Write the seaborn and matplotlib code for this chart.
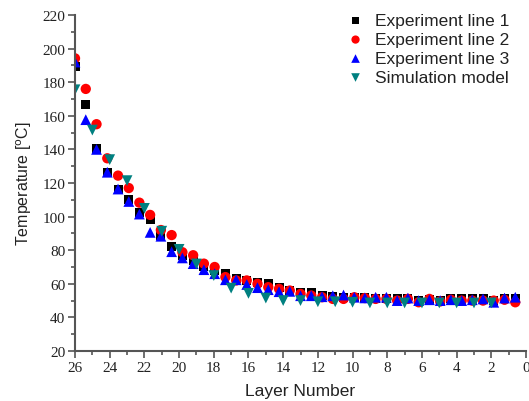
import numpy as np
import pandas as pd
import matplotlib
matplotlib.use("Agg")
import matplotlib.pyplot as plt
import seaborn as sns
from matplotlib.ticker import MultipleLocator

exp_layer = [26.0, 25.38, 24.76, 24.14, 23.52, 22.90, 22.29, 21.67, 21.05, 20.43,
             19.81, 19.19, 18.57, 17.95, 17.33, 16.71, 16.10, 15.48, 14.86, 14.24,
             13.62, 13.00, 12.38, 11.76, 11.14, 10.52, 9.90, 9.29, 8.67, 8.05,
             7.43, 6.81, 6.19, 5.57, 4.95, 4.33, 3.71, 3.10, 2.48, 1.86, 1.24, 0.62]

line1 = [189.5, 167, 140.6, 126, 116, 110, 102.5, 98, 88.5, 82,
         77, 74, 70, 68, 66.3, 63, 62, 61, 60, 57.5,
         56, 55, 55, 53, 52.5, 52, 52, 52, 51.5, 51.5,
         51, 51.5, 50, 50.5, 50, 51, 51, 51, 51, 50, 51.5, 51.5]

line2 = [194.2, 176, 155, 134.7, 124.4, 117, 108.3, 101, 92, 89,
         78.8, 77, 72, 70, 64, 62, 62, 60, 58, 57,
         56, 54, 53, 52, 51, 51, 52, 51.5, 51, 51,
         50, 51, 49, 51, 49.5, 50.5, 50, 50, 50, 50, 50.5, 49]

line3 = [192, 157.7, 140, 126.4, 116.4, 109, 101.5, 90.6, 88.3, 79.1,
         75.4, 72, 68.4, 66, 62.4, 62.4, 59.6, 57.7, 56.5, 55.3,
         55.5, 52.9, 52.9, 52.3, 52.9, 53.3, 52, 51.6, 52, 52,
         50, 51.5, 50, 50.5, 50, 50.5, 50, 50.5, 51, 49, 51.5, 52]

# simulation model at whole layers
sim_layer = [26, 25, 24, 23, 22, 21, 20, 19, 18, 17, 16, 15, 14, 13, 12, 11, 10,
             9, 8, 7, 6, 5, 4, 3, 2]
sim_temp = [175.5, 151.5, 133.9, 121.4, 104.9, 91.3, 80.5, 71.8, 64.9, 57.4,
            54.3, 51.5, 50, 50, 49.3, 49.3, 49, 48.6, 48.6, 48.6, 48.6, 48.6,
            48.6, 48.6, 48.6]

exp_df = pd.DataFrame({"layer": exp_layer, "line1": line1,
                       "line2": line2, "line3": line3})
sim_df = pd.DataFrame({"layer": sim_layer, "temp": sim_temp})

sns.set_style("ticks")
plt.rcParams['font.family'] = ['Liberation Sans', 'DejaVu Sans']

fig = plt.figure(figsize=(5.29, 4.02), dpi=100)
ax = fig.add_axes([0.1418, 0.1244, 0.8526, 0.8358])

sns.scatterplot(data=exp_df, x="layer", y="line1", marker="s", color="black",
                s=42, edgecolor="none", label="Experiment line 1", ax=ax)
sns.scatterplot(data=exp_df, x="layer", y="line2", marker="o", color="red",
                s=55, edgecolor="none", label="Experiment line 2", ax=ax)
sns.scatterplot(data=exp_df, x="layer", y="line3", marker="^", color="blue",
                s=60, edgecolor="none", label="Experiment line 3", ax=ax)
sns.scatterplot(data=sim_df, x="layer", y="temp", marker="v", color="#008080",
                s=60, edgecolor="none", label="Simulation model", ax=ax)

ax.set_xlim(26, 0)
ax.set_ylim(20, 220)
ax.xaxis.set_major_locator(MultipleLocator(2))
ax.xaxis.set_minor_locator(MultipleLocator(1))
ax.yaxis.set_major_locator(MultipleLocator(20))
ax.yaxis.set_minor_locator(MultipleLocator(10))

sns.despine(ax=ax)
for side in ["left", "bottom"]:
    ax.spines[side].set_color("#555555")
    ax.spines[side].set_linewidth(1.5)
ax.tick_params(which="major", direction="out", length=5, width=1.2,
               color="#555555", labelsize=11, pad=2)
ax.tick_params(which="minor", direction="out", length=3, width=1.2,
               color="#555555")
for lbl in ax.get_xticklabels() + ax.get_yticklabels():
    lbl.set_fontfamily(["Liberation Serif", "DejaVu Serif"])
    lbl.set_color("#222222")

ax.set_xlabel("Layer Number", fontsize=12.5, color="#222222", labelpad=7)
ax.set_ylabel("Temperature [$^{\\rm o}$C]", fontsize=11.5, color="#222222", labelpad=6)

leg = ax.legend(loc="upper right", bbox_to_anchor=(509 / 529, 1 - 14 / 402),
                bbox_transform=fig.transFigure, frameon=False, fontsize=12.5,
                handlelength=1.0, handletextpad=0.6, labelspacing=0.22,
                markerscale=0.8, borderaxespad=0, borderpad=0)
for t in leg.get_texts():
    t.set_color("#222222")

fig.savefig("out.png", dpi=100)
